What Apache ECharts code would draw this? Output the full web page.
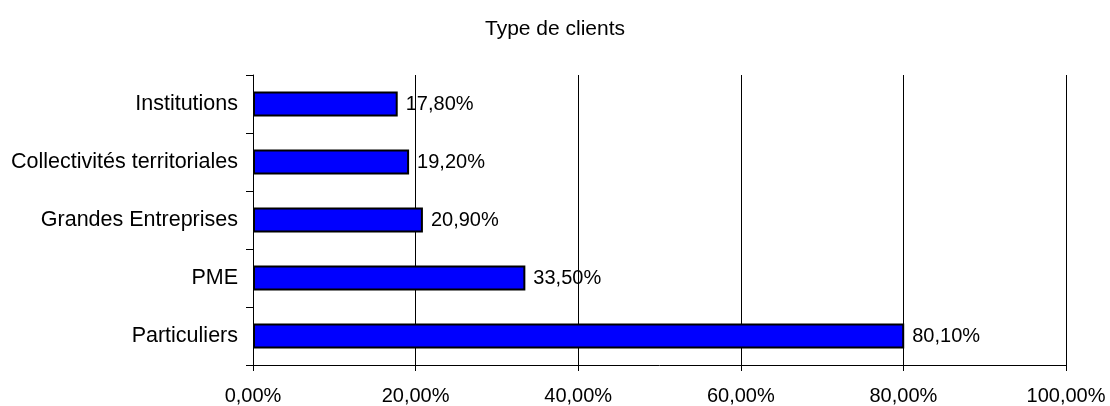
<!DOCTYPE html>
<html>
<head>
<meta charset="utf-8">
<script src="https://cdn.jsdelivr.net/npm/echarts@6/dist/echarts.min.js"></script>
<style>
  html, body { margin: 0; padding: 0; background: #fff; }
  #chart { width: 1110px; height: 406px; }
</style>
</head>
<body>
<div id="chart"></div>
<script>
(function () {
    // categories listed bottom to top
    const categories = ['Particuliers', 'PME', 'Grandes Entreprises', 'Collectivités territoriales', 'Institutions'];
    const values = [80.1, 33.5, 20.9, 19.2, 17.8];
    const xTicks = [0, 20, 40, 60, 80, 100];

    const fmt = function (v) {
        return v.toFixed(2).replace('.', ',') + '%';
    };

    const option = {
        animation: false,
        textStyle: { fontFamily: 'Liberation Sans, Arial, sans-serif' },
        title: {
            text: 'Type de clients',
            left: 'center',
            top: 14,
            textStyle: { fontSize: 21, fontWeight: 'normal', color: '#000' }
        },
        grid: { left: 253, right: 44, top: 75, bottom: 40 },
        xAxis: {
            type: 'value',
            min: xTicks[0],
            max: xTicks[xTicks.length - 1],
            interval: 20,
            axisLine: { show: true, lineStyle: { color: '#000', width: 1 } },
            axisTick: { show: true, length: 6, lineStyle: { color: '#000' } },
            axisLabel: {
                color: '#000', fontSize: 20, margin: 21,
                formatter: fmt
            },
            splitLine: { show: true, lineStyle: { color: '#000', width: 1 } }
        },
        yAxis: {
            type: 'category',
            data: categories,
            axisLine: { show: true, lineStyle: { color: '#000', width: 1 } },
            axisTick: { show: true, length: 7, lineStyle: { color: '#000' } },
            axisLabel: { color: '#000', fontSize: 21.5, margin: 15 }
        },
        series: [{
            type: 'bar',
            data: values,
            barWidth: '43%',
            itemStyle: { color: '#0000ff', borderColor: '#000', borderWidth: 2 },
            label: {
                show: true,
                position: 'right',
                distance: 8,
                color: '#000',
                fontSize: 20,
                formatter: function (p) { return fmt(p.value); }
            }
        }]
    };

    const myChart = echarts.init(document.getElementById('chart'));
    myChart.setOption(option);
}());
</script>
</body>
</html>
